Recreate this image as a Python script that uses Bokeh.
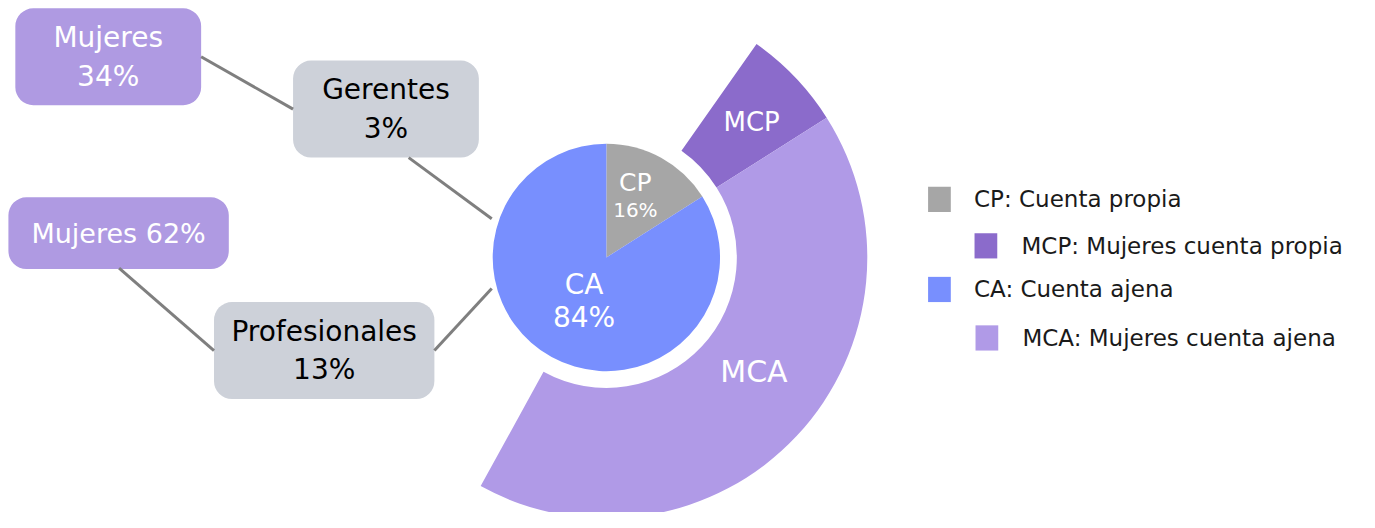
import math
from bokeh.plotting import figure
from bokeh.models import BoxAnnotation, Range1d
from bokeh.core.properties import value
from bokeh.embed import file_html
from bokeh.resources import INLINE

# ---- data ----
pie_labels = ["CP", "CA"]
pie_values = [16, 84]                 # % of total
ring_labels = ["MCP", "MCA"]
ring_share = [39, 50]                 # % of parent slice (women)
legend_labels = ["CP: Cuenta propia", "MCP: Mujeres cuenta propia",
                 "CA: Cuenta ajena", "MCA: Mujeres cuenta ajena"]
box_titles = ["Mujeres", "Gerentes", "Mujeres 62%", "Profesionales"]
box_values = ["34%", "3%", "", "13%"]

# ---- style ----
C_CP, C_CA, C_MCP, C_MCA = "#a6a6a6", "#788ffe", "#8b6bcb", "#b09ae7"
C_BOX_P, C_BOX_G, C_LINE = "#af9ae2", "#cdd1d9", "#7f7f7f"
FONT = value("DejaVu Sans")

W, H = 1359, 512          # pixel size of figure
RW, RH = 1375, 528        # layout coordinate space
def X(sx): return sx
def Y(sy): return RH - sy

p = figure(width=W, height=H, output_backend="svg", toolbar_location=None,
           x_range=Range1d(0, RW), y_range=Range1d(0, RH), min_border=0)
p.axis.visible = False
p.grid.visible = False
p.outline_line_color = None
p.background_fill_color = "white"

cx, cy = X(613), Y(265)
R_PIE, R_IN, R_OUT = 115, 132, 264

# pie
start = 90.0
pie_angles = []
for lab, v, col in zip(pie_labels, pie_values, [C_CP, C_CA]):
    end = start - 360 * v / 100
    p.wedge(x=cx, y=cy, radius=R_PIE, start_angle=math.radians(start),
            end_angle=math.radians(end), direction="clock",
            fill_color=col, line_color=None)
    pie_angles.append((start, end))
    start = end

b = pie_angles[0][1]
cp_span = 360 * pie_values[0] / 100
ca_span = 360 * pie_values[1] / 100
mcp_start = b + cp_span * ring_share[0] / 100
mca_end = b - ca_span * ring_share[1] / 100
ring_angles = [(mcp_start, b), (b, mca_end)]
for (s, e), col in zip(ring_angles, [C_MCP, C_MCA]):
    p.annular_wedge(x=cx, y=cy, inner_radius=R_IN, outer_radius=R_OUT,
                    start_angle=math.radians(s), end_angle=math.radians(e),
                    direction="clock", fill_color=col, line_color=None)

def polar(ang, r):
    return cx + r * math.cos(math.radians(ang)), cy + r * math.sin(math.radians(ang))

def txt(x, y, t, color, size, align="center"):
    p.text(x=[x], y=[y], text=[t], text_color=color, text_font=FONT,
           text_font_size=size, text_align=align, text_baseline="middle")

# pie labels
s, e = pie_angles[0]
lx, ly = polar((s + e) / 2 + 4, 70)
txt(lx, ly + 14, pie_labels[0], "white", "25px")
txt(lx, ly - 15, f"{pie_values[0]}%", "white", "20px")
s, e = pie_angles[1]
lx, ly = polar((s + e) / 2 + 2, 50)
txt(lx, ly + 17, pie_labels[1], "white", "28px")
txt(lx, ly - 17, f"{pie_values[1]}%", "white", "28px")
# ring labels
for (s, e), lab, r, off, fs in zip(ring_angles, ring_labels, [203, 190], [0, 5], ["26px", "30px"]):
    lx, ly = polar((s + e) / 2 + off, r)
    txt(lx, ly, lab, "white", fs)

# connector lines
segs = [((203, 58), (296, 112)), ((413, 162), (497, 225)),
        ((120, 276), (216, 361)), ((439, 361), (497, 297))]
for (a, b2) in segs:
    p.line(x=[X(a[0]), X(b2[0])], y=[Y(a[1]), Y(b2[1])], line_color=C_LINE, line_width=3)

# boxes
boxes = [(15, 203, 8, 108, C_BOX_P, "white"),
         (296, 484, 62, 162, C_BOX_G, "black"),
         (8, 231, 203, 277, C_BOX_P, "white"),
         (216, 439, 311, 411, C_BOX_G, "black")]
for (l, r, t, bt, col, tc), title, val in zip(boxes, box_titles, box_values):
    p.add_layout(BoxAnnotation(left=X(l), right=X(r), top=Y(t), bottom=Y(bt),
                               fill_color=col, fill_alpha=1, line_color=None,
                               border_radius=18, level="underlay"))
    mx = X((l + r) / 2)
    my = (t + bt) / 2
    if val:
        txt(mx, Y(my - 20), title, tc, "28px")
        txt(mx, Y(my + 20), val, tc, "28px")
    else:
        txt(mx, Y(my), title, tc, "27px")

# legend
leg_sq = [(950, 205, C_CP), (997, 253, C_MCP), (950, 298, C_CA), (998, 348, C_MCA)]
leg_tx = [985, 1033, 985, 1034]
for (sx, sy, col), tx, lab in zip(leg_sq, leg_tx, legend_labels):
    p.rect(x=[X(sx)], y=[Y(sy)], width=23, height=26, fill_color=col, line_color=None)
    txt(X(tx), Y(sy), lab, "#1a1a1a", "23px", align="left")

open("out.html", "w").write(file_html(p, INLINE))
